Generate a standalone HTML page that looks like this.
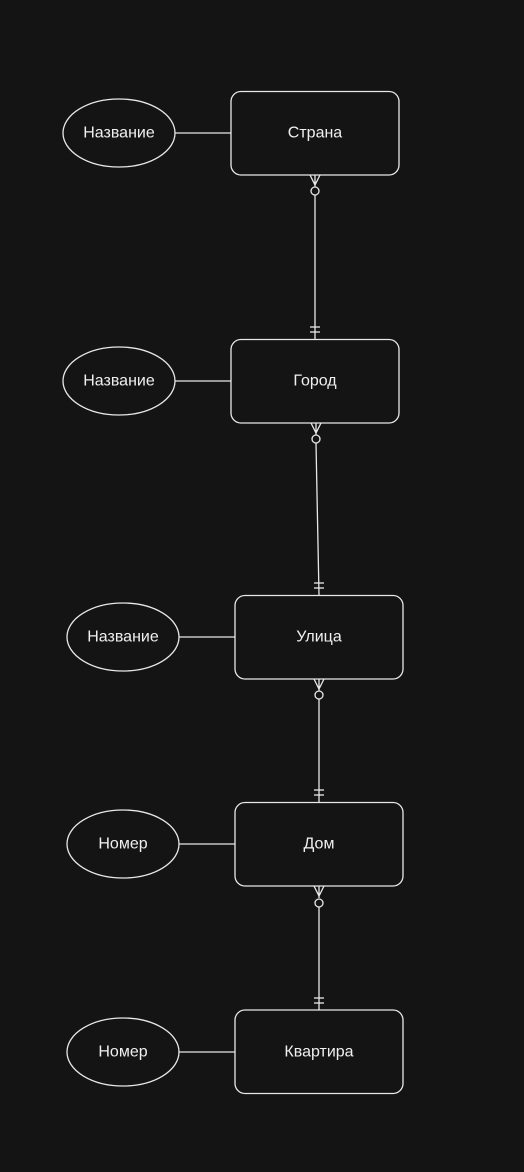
<!DOCTYPE html>
<html><head><meta charset="utf-8"><style>
html,body{margin:0;padding:0;background:#141414;}
svg{display:block;}
text{font-family:"Liberation Sans","DejaVu Sans",sans-serif;font-size:16px;fill:#f0f0f0;text-anchor:middle;dominant-baseline:central;}
</style></head><body>
<svg width="524" height="1172" viewBox="0 0 524 1172">
<rect width="524" height="1172" fill="#141414"/>
<g fill="none" stroke="#e8e8e8" stroke-width="1.3">
<!-- boxes -->
<rect x="231" y="91.5" width="168" height="83.5" rx="10"/>
<rect x="231" y="339.5" width="168" height="83.5" rx="10"/>
<rect x="235" y="595.5" width="168" height="83.5" rx="10"/>
<rect x="235" y="802.5" width="168" height="83.5" rx="10"/>
<rect x="235" y="1010" width="168" height="83.5" rx="10"/>
<!-- ellipses -->
<ellipse cx="119" cy="133" rx="56" ry="34"/>
<ellipse cx="119" cy="381" rx="56" ry="34"/>
<ellipse cx="123" cy="637" rx="56" ry="34"/>
<ellipse cx="123" cy="844" rx="56" ry="34"/>
<ellipse cx="123" cy="1052" rx="56" ry="34"/>
<!-- attribute lines -->
<line x1="175" y1="133" x2="231" y2="133"/>
<line x1="175" y1="381" x2="231" y2="381"/>
<line x1="179" y1="637" x2="235" y2="637"/>
<line x1="179" y1="844" x2="235" y2="844"/>
<line x1="179" y1="1052" x2="235" y2="1052"/>
<!-- relation 1 -->
<path d="M310 175 L315 185 L320 175 M315 175 L315 187"/>
<circle cx="315" cy="191" r="4"/>
<line x1="315" y1="195" x2="315" y2="339"/>
<line x1="310" y1="327" x2="320" y2="327"/><line x1="310" y1="332" x2="320" y2="332"/>
<!-- relation 2 -->
<path d="M311 423 L316 433 L321 423 M316 423 L316 435"/>
<circle cx="316" cy="439" r="4"/>
<line x1="316" y1="443" x2="319" y2="595"/>
<line x1="314" y1="583" x2="324" y2="583"/><line x1="314" y1="588" x2="324" y2="588"/>
<!-- relation 3 -->
<path d="M314 679 L319 689 L324 679 M319 679 L319 691"/>
<circle cx="319" cy="695" r="4"/>
<line x1="319" y1="699" x2="319" y2="802"/>
<line x1="314" y1="790" x2="324" y2="790"/><line x1="314" y1="795" x2="324" y2="795"/>
<!-- relation 4 -->
<path d="M314 886 L319 896 L324 886 M319 886 L319 898"/>
<circle cx="319" cy="903" r="4"/>
<line x1="319" y1="907" x2="319" y2="1010"/>
<line x1="314" y1="998" x2="324" y2="998"/><line x1="314" y1="1003" x2="324" y2="1003"/>
</g>
<text x="315" y="133">Страна</text>
<text x="315" y="381">Город</text>
<text x="319" y="637">Улица</text>
<text x="319" y="844">Дом</text>
<text x="319" y="1052">Квартира</text>
<text x="119" y="133">Название</text>
<text x="119" y="381">Название</text>
<text x="123" y="637">Название</text>
<text x="123" y="844">Номер</text>
<text x="123" y="1052">Номер</text>
</svg>
</body></html>
